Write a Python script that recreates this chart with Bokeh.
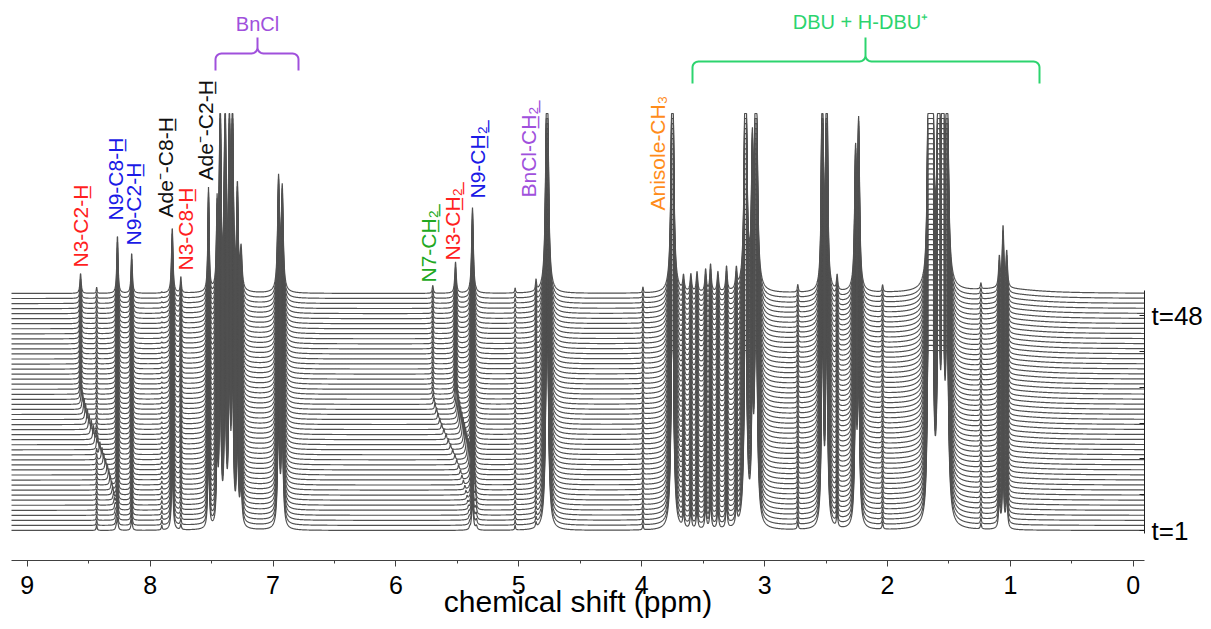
import numpy as np
from bokeh.plotting import figure
from bokeh.models import Range1d, LinearAxis, FixedTicker, CustomJSTickFormatter, ColumnDataSource
from bokeh.core.properties import value
from bokeh.embed import file_html
from bokeh.resources import INLINE

# ---------------- data ----------------
n_traces = 48                      # t = 1 ... 48
# growth of the product signals per spectrum (0..1), t=1..48
conversion = [0.05, 0.09, 0.13, 0.17, 0.21, 0.25, 0.29, 0.33, 0.37, 0.41,
              0.45, 0.48, 0.51, 0.54, 0.57, 0.60, 0.63, 0.66, 0.68, 0.70,
              0.72, 0.74, 0.76, 0.78, 0.80, 0.81, 0.82, 0.83, 0.84, 0.85,
              0.86, 0.87, 0.88, 0.89, 0.90, 0.91, 0.92, 0.93, 0.935, 0.94,
              0.95, 0.955, 0.96, 0.97, 0.975, 0.98, 0.99, 1.0]
# drift of the moving signals from their first to final position (0..1)
drift = [0.0, 0.0, 0.01, 0.02, 0.03, 0.05, 0.07, 0.10, 0.13, 0.17,
         0.21, 0.25, 0.30, 0.35, 0.40, 0.46, 0.52, 0.58, 0.64, 0.70,
         0.76, 0.81, 0.86, 0.90, 0.94, 0.97, 0.99, 1.0, 1.0, 1.0,
         1.0, 1.0, 1.0, 1.0, 1.0, 1.0, 1.0, 1.0, 1.0, 1.0,
         1.0, 1.0, 1.0, 1.0, 1.0, 1.0, 1.0, 1.0]

# peak table: final shift (ppm), offset of first position (ppm),
# height at t=1 and t=48 (in units of the trace spacing), half width (ppm)
peak_ppm = [8.566, 8.435, 8.266, 8.150, 7.905, 7.820, 7.750, 7.525,
            7.455, 7.430, 7.390, 7.355, 7.330, 7.290, 7.260,
            6.955, 6.925,
            5.700, 5.515, 5.377, 5.030, 4.860, 4.770, 3.990, 3.750,
            3.660, 3.600, 3.550, 3.480, 3.440, 3.380, 3.310, 3.230,
            3.155, 3.100, 3.070, 2.730, 2.530, 2.495, 2.410, 2.260, 2.235,
            2.040, 1.670, 1.650, 1.630, 1.585, 1.550, 1.515, 1.240,
            1.090, 1.060, 1.030, 1.050]
peak_offset = [-0.29, 0, 0, 0, 0, 0, 0, 0,
               0, 0, 0, 0, 0, 0, 0,
               0, 0,
               -0.30, -0.17, 0, 0, 0, 0, 0, 0,
               0, 0, 0, 0, 0, 0, 0, 0,
               0, 0, 0, 0, 0, 0, 0, 0, 0,
               0, 0, 0, 0, 0, 0, 0, 0,
               0, 0, 0, 0]
peak_h_start = [0.4, 1.2, 2.0, 2.0, 1.0, 14.0, 1.0, 20.0,
                16, 40, 38, 36, 40, 20, 8,
                22, 20,
                0.3, 0.5, 5.0, 1.0, 1.0, 60, 1.2, 60,
                3, 3.5, 4, 4.5, 5.5, 4, 5, 4,
                60, 25, 60, 1.5, 60, 60, 3, 26, 32,
                1.4, 27, 60, 29, 50, 50, 45, 1.2,
                6, 12, 7, 0.0]
peak_h_end = [4.0, 1.2, 11.5, 8.0, 0.2, 13.0, 3.2, 20.5,
              16, 40, 38, 36, 40, 20, 8,
              22, 20,
              1.6, 6.2, 17.0, 1.0, 2.2, 60, 1.2, 60,
              3, 3.5, 4, 4.5, 5.5, 4, 5, 4,
              60, 25, 60, 1.5, 60, 60, 3, 26, 32,
              1.4, 27, 60, 29, 50, 50, 45, 1.2,
              6, 12, 7, 0.9]
peak_hwhm = [0.006, 0.004, 0.006, 0.006, 0.004, 0.007, 0.005, 0.006,
             0.006, 0.007, 0.007, 0.007, 0.007, 0.007, 0.009,
             0.009, 0.009,
             0.005, 0.007, 0.008, 0.004, 0.005, 0.010, 0.004, 0.010,
             0.007, 0.007, 0.007, 0.007, 0.007, 0.007, 0.007, 0.007,
             0.010, 0.008, 0.010, 0.005, 0.007, 0.007, 0.006, 0.009, 0.009,
             0.005, 0.009, 0.009, 0.009, 0.011, 0.011, 0.011, 0.005,
             0.007, 0.007, 0.007, 0.30]
clip_height = 35.7   # vertical clip of each trace (trace-spacing units)

x_ticks = [0, 1, 2, 3, 4, 5, 6, 7, 8, 9]
time_labels = {1: "t=1", 48: "t=48"}

# signal labels
label_text = ["N3-C2-H\u0332", "N9-C8-H\u0332", "N9-C2-H\u0332", "Ade\u207B-C8-H\u0332",
              "N3-C8-H\u0332", "Ade\u207B-C2-H\u0332", "N7-CH\u0332\u2082\u0332",
              "N3-CH\u0332\u2082\u0332", "N9-CH\u0332\u2082\u0332",
              "BnCl-CH\u0332\u2082\u0332", "Anisole-CH\u2083"]
label_ppm = [8.566, 8.280, 8.135, 7.875, 7.712, 7.549, 5.735, 5.540, 5.336, 4.921, 3.870]
label_color = ["#ff1f1f", "#1a1ae6", "#1a1ae6", "#111111", "#ff1f1f", "#111111",
               "#21a821", "#ff1f1f", "#1a1ae6", "#a050dc", "#ff8c1a"]

# ---------------- build the stacked spectra ----------------
x = np.arange(-0.095, 9.135, 0.002)
pp = np.array(peak_ppm); po = np.array(peak_offset)
h0 = np.array(peak_h_start); h1 = np.array(peak_h_end); w = np.array(peak_hwhm)
xs, ys = [], []
for i in range(n_traces):
    c = conversion[i]; d = drift[i]
    centers = pp + po * (1.0 - d)
    heights = h0 + (h1 - h0) * c
    spec = np.zeros_like(x)
    for ck, hk, wk in zip(centers, heights, w):
        spec += hk * wk * wk / (wk * wk + (x - ck) ** 2)
    spec = np.minimum(spec, clip_height)
    xs.append(x)
    ys.append(spec + i)

# ---------------- figure ----------------
px_per_unit = (530 - 293) / 47.0
p = figure(width=1211, height=629,
           x_range=Range1d(9.128, -0.091),
           y_range=Range1d(-30 / px_per_unit, 530 / px_per_unit),
           output_backend="svg", toolbar_location=None,
           y_axis_location=None,
           min_border_left=11, min_border_right=67,
           min_border_top=0, min_border_bottom=69)
p.outline_line_color = None
p.grid.visible = False
p.background_fill_color = "white"

t_px = 215.0 / 47.0
p.extra_y_ranges = {"scr": Range1d(-560, 0),
                    "t": Range1d(1 - 30 / t_px, 1 + 530 / t_px)}
p.extra_x_ranges = {"sx": Range1d(11, 1144)}

p.multi_line(xs=xs, ys=ys, line_color="#505050", line_width=1.2)

# bottom axis
ax = p.xaxis[0]
ax.ticker = FixedTicker(ticks=x_ticks, minor_ticks=[k + 0.5 for k in range(9)])
ax.axis_label = "chemical shift (ppm)"
ax.axis_label_text_font = "Liberation Sans"
ax.axis_label_text_font_style = "normal"
ax.axis_label_text_font_size = "30px"
ax.axis_label_text_color = "black"
ax.axis_label_standoff = -12
ax.major_label_text_font = "Liberation Sans"
ax.major_label_text_font_size = "25px"
ax.major_label_text_color = "black"
ax.major_label_standoff = 9
ax.axis_line_color = "#404040"
ax.major_tick_line_color = "#404040"
ax.minor_tick_line_color = "#404040"
ax.major_tick_out = 6
ax.major_tick_in = 0
ax.minor_tick_out = 3
ax.minor_tick_in = 0

# right time axis
code = "if (Math.abs(tick-1)<0.01) {return '%s';} if (Math.abs(tick-48)<0.01) {return '%s';} return '';" % (
    time_labels[1], time_labels[48])
ra = LinearAxis(y_range_name="t",
                ticker=FixedTicker(ticks=[1 + 47.0 * k / 6 for k in range(7)]),
                formatter=CustomJSTickFormatter(code=code),
                bounds=(0.35, 53.5))
ra.major_tick_in = 5
ra.major_tick_out = 0
ra.minor_tick_line_color = None
ra.axis_line_color = "#202020"
ra.major_tick_line_color = "#202020"
ra.major_label_text_font = "Liberation Sans"
ra.major_label_text_font_size = "26px"
ra.major_label_text_color = "black"
ra.major_label_standoff = 7
p.add_layout(ra, "right")

# rotated signal labels
label_bottom = [267, 220, 245, 217, 270, 180, 282, 260, 198, 197, 210]
lsrc = ColumnDataSource(dict(x=label_ppm, y=[-b for b in label_bottom],
                             text=label_text, color=label_color))
p.text(x="x", y="y", text="text", text_color="color", source=lsrc,
       y_range_name="scr", angle=np.pi / 2, text_align="left",
       text_baseline="middle", text_font=value("Liberation Sans"),
       text_font_size="21px")

# braces
def brace(xl, xr, xt, yb, ym, yt, r=6):
    th = np.linspace(0, np.pi / 2, 8)
    bx, by = [xl], [yb]
    bx += list(xl + r - r * np.cos(th)); by += list(ym + r - r * np.sin(th))
    bx += list(xt - r + r * np.sin(th)); by += list(ym - r + r * np.cos(th))
    bx += [xt]; by += [yt]
    bx += list(xt + r - r * np.cos(th)); by += list(ym - r + r * np.sin(th))
    bx += list(xr - r + r * np.sin(th)); by += list(ym + r - r * np.cos(th))
    bx += [xr]; by += [yb]
    return bx, [-v for v in by]

bx, by = brace(215, 298, 257, 70, 53, 37)
p.line(bx, by, x_range_name="sx", y_range_name="scr", line_color="#a050dc", line_width=2)
bx, by = brace(692, 1039, 865, 83, 61, 37)
p.line(bx, by, x_range_name="sx", y_range_name="scr", line_color="#2cd46e", line_width=2)

p.text(x=[257], y=[-23], text=["BnCl"], x_range_name="sx", y_range_name="scr",
       text_color="#a050dc", text_align="center", text_baseline="middle",
       text_font=value("Liberation Sans"), text_font_size="20px")
p.text(x=[860], y=[-21], text=["DBU + H-DBU\u207A"], x_range_name="sx", y_range_name="scr",
       text_color="#2cd46e", text_align="center", text_baseline="middle",
       text_font=value("Liberation Sans"), text_font_size="20px")

open("out.html", "w").write(file_html(p, INLINE))
